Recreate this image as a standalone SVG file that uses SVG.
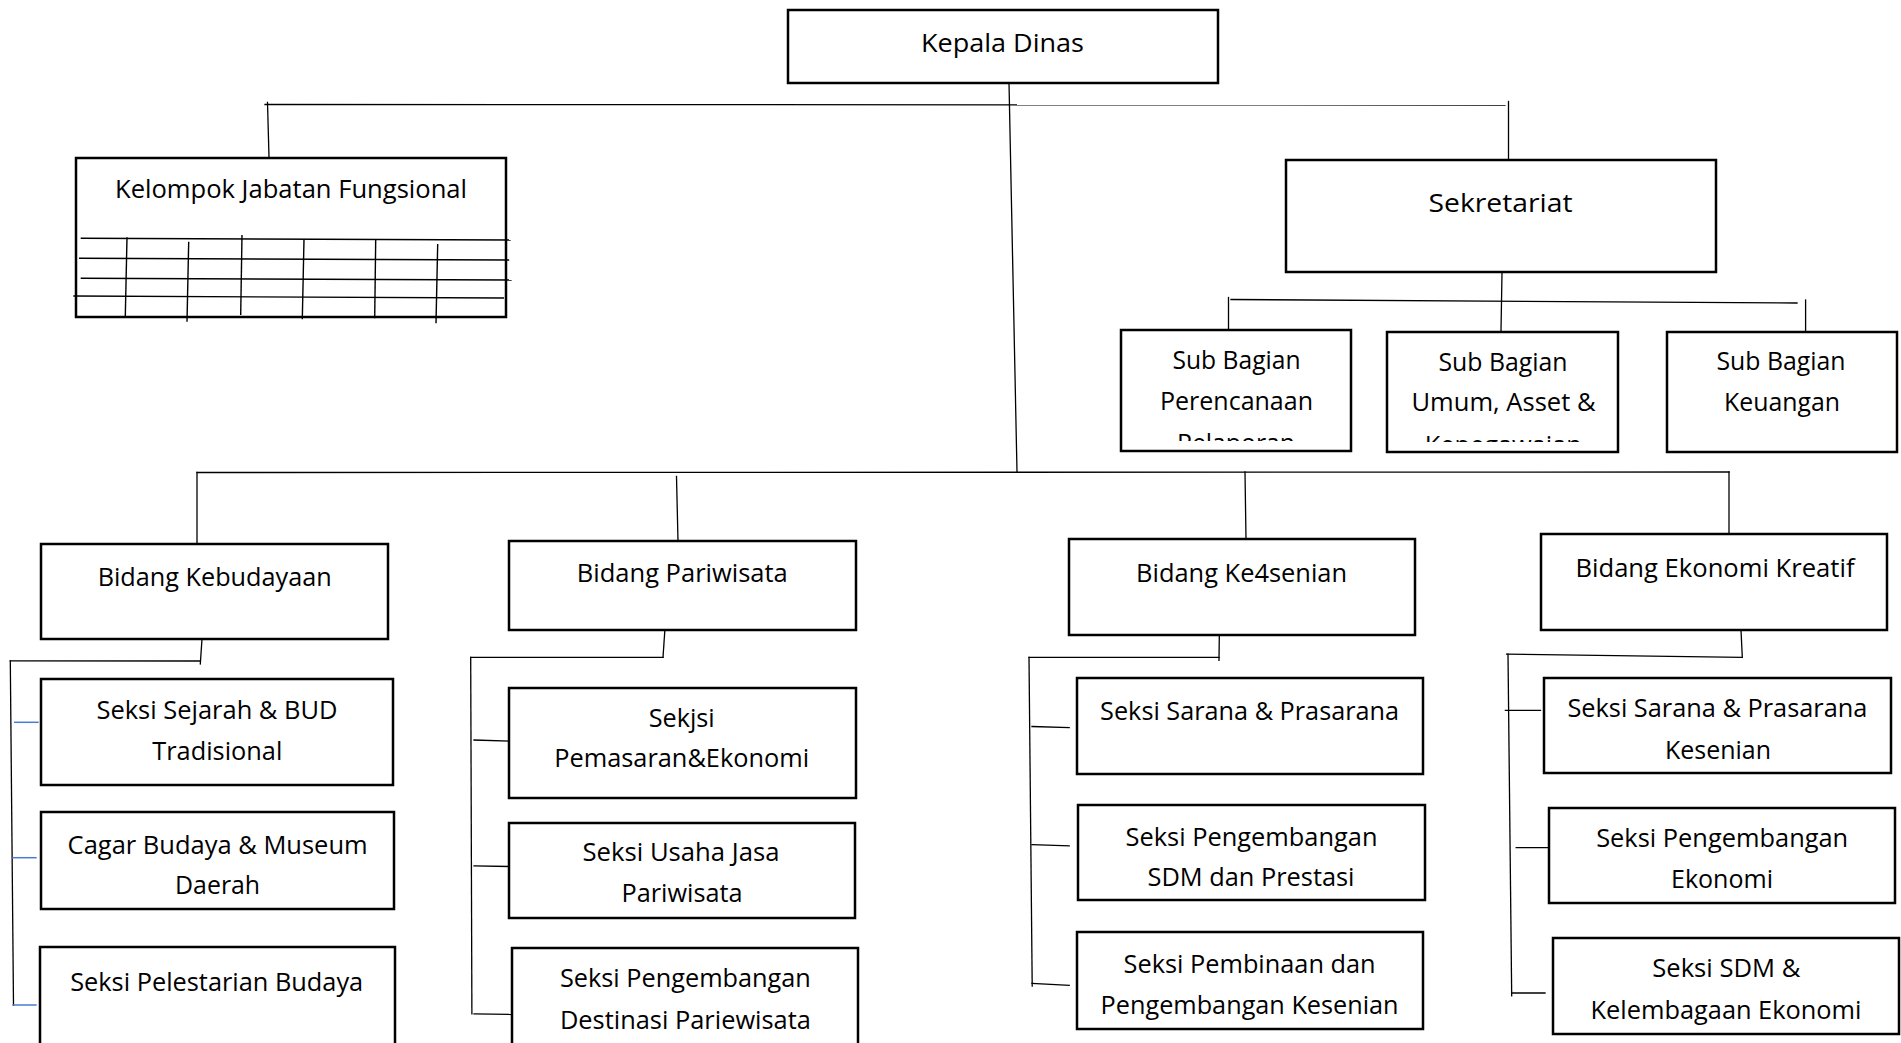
<svg xmlns="http://www.w3.org/2000/svg" width="1901" height="1043" viewBox="0 0 1901 1043">
  <style>
    .box { fill: #fff; stroke: #000; stroke-width: 2.5; }
    .t { font-family: "Open Sans", "Noto Sans", sans-serif; font-size: 26px; fill: #000; text-anchor: middle; }
    .c { stroke: #000; stroke-width: 1.3; fill: none; stroke-linecap: square; }
    .blue { stroke: #4a7bd0; stroke-width: 1.5; fill: none; }
    .grid { stroke: #000; stroke-width: 1.4; fill: none; }
  </style>
  <defs>
    <clipPath id="clip-sub1"><rect x="1122" y="331" width="228" height="110"/></clipPath>
    <clipPath id="clip-sub2"><rect x="1388" y="333" width="229" height="109"/></clipPath>
  </defs>

  <rect width="1901" height="1043" fill="#fff"/>

  <!-- connecting lines -->
  <g id="connectors">
    <!-- trunk from the head of office -->
    <line class="c" x1="1009" y1="83" x2="1017" y2="472"/>
    <line class="c" x1="265" y1="104.5" x2="1505" y2="105"/>
    <line class="c" x1="267.5" y1="102.5" x2="269" y2="157"/>
    <line class="c" x1="1508.5" y1="101.5" x2="1508.5" y2="160"/>
    <!-- secretariat to sub sections -->
    <line class="c" x1="1502" y1="273" x2="1501" y2="331"/>
    <line class="c" x1="1231" y1="299.5" x2="1797" y2="303"/>
    <line class="c" x1="1228.5" y1="297.5" x2="1228.5" y2="330"/>
    <line class="c" x1="1805.6" y1="300" x2="1805.6" y2="332"/>
    <!-- divisions bus -->
    <line class="c" x1="197" y1="472.5" x2="1729" y2="472"/>
    <line class="c" x1="197" y1="472.5" x2="197" y2="544"/>
    <line class="c" x1="676.5" y1="476.5" x2="678" y2="541"/>
    <line class="c" x1="1245" y1="472" x2="1246" y2="539"/>
    <line class="c" x1="1729" y1="472" x2="1729" y2="534"/>
    <!-- Kebudayaan sections -->
    <line class="c" x1="202" y1="639" x2="200.3" y2="664"/>
    <line class="c" x1="10.3" y1="660.8" x2="200.3" y2="661"/>
    <line class="c" x1="10.3" y1="661" x2="13.5" y2="1005"/>
    <line class="blue" x1="14" y1="722.3" x2="38.7" y2="722.3"/>
    <line class="blue" x1="12.3" y1="857.7" x2="36.7" y2="857.7"/>
    <line class="blue" x1="12.3" y1="1005" x2="36.7" y2="1005"/>
    <!-- Pariwisata sections -->
    <line class="c" x1="664.8" y1="631" x2="663" y2="657.3"/>
    <line class="c" x1="470.7" y1="657.3" x2="663" y2="657.3"/>
    <line class="c" x1="470.7" y1="657.3" x2="471.9" y2="1013.8"/>
    <line class="c" x1="474" y1="740" x2="512.6" y2="741.2"/>
    <line class="c" x1="474" y1="865.8" x2="508.6" y2="866.5"/>
    <line class="c" x1="474" y1="1013.8" x2="513.8" y2="1014.5"/>
    <!-- Ke4senian sections -->
    <line class="c" x1="1219.3" y1="636" x2="1219" y2="660.4"/>
    <line class="c" x1="1029" y1="657.3" x2="1219" y2="657.3"/>
    <line class="c" x1="1029" y1="657.3" x2="1032.2" y2="986.2"/>
    <line class="c" x1="1032" y1="726.5" x2="1069.2" y2="727.7"/>
    <line class="c" x1="1032" y1="844.6" x2="1069.2" y2="845.8"/>
    <line class="c" x1="1032" y1="983.5" x2="1069.2" y2="985.4"/>
    <!-- Ekonomi Kreatif sections -->
    <line class="c" x1="1741" y1="630" x2="1742.3" y2="657.3"/>
    <line class="c" x1="1506.6" y1="654.2" x2="1742" y2="657.3"/>
    <line class="c" x1="1508" y1="654.2" x2="1511.7" y2="995.8"/>
    <line class="c" x1="1505.4" y1="710.4" x2="1540.5" y2="710.4"/>
    <line class="c" x1="1516.2" y1="847.7" x2="1549.4" y2="847.7"/>
    <line class="c" x1="1511.7" y1="993" x2="1545" y2="993"/>
  </g>

  <g id="kepala-dinas">
    <rect class="box" x="788" y="10" width="430" height="73"/>
    <text class="t" x="1002.5" y="52" textLength="163" lengthAdjust="spacingAndGlyphs">Kepala Dinas</text>
  </g>

  <g id="kelompok-jabatan">
    <rect class="box" x="76" y="158" width="430" height="159"/>
    <text class="t" x="291" y="197.5" textLength="352" lengthAdjust="spacingAndGlyphs">Kelompok Jabatan Fungsional</text>
    <line class="grid" x1="80.7" y1="238.3" x2="510.7" y2="240"/>
    <line class="grid" x1="79" y1="258.3" x2="509.3" y2="260"/>
    <line class="grid" x1="80.7" y1="278.3" x2="511.7" y2="280"/>
    <line class="grid" x1="73.3" y1="296" x2="504" y2="298"/>
    <line class="grid" x1="127" y1="237.3" x2="125.3" y2="316"/>
    <line class="grid" x1="188.7" y1="241.7" x2="187" y2="321.7"/>
    <line class="grid" x1="242" y1="235" x2="240.7" y2="315"/>
    <line class="grid" x1="304" y1="239.3" x2="302.3" y2="319.3"/>
    <line class="grid" x1="375.7" y1="239.3" x2="374.7" y2="318.3"/>
    <line class="grid" x1="437.7" y1="244" x2="436" y2="323.3"/>
  </g>

  <g id="sekretariat">
    <rect class="box" x="1286" y="160" width="430" height="112"/>
    <text class="t" x="1500.5" y="211.5" textLength="144" lengthAdjust="spacingAndGlyphs">Sekretariat</text>
  </g>

  <g id="sub-perencanaan">
    <rect class="box" x="1121" y="330" width="230" height="121"/>
    <g clip-path="url(#clip-sub1)">
      <text class="t" x="1236.5" y="368.5" textLength="128" lengthAdjust="spacingAndGlyphs">Sub Bagian</text>
      <text class="t" x="1236.5" y="409.5" textLength="153" lengthAdjust="spacingAndGlyphs">Perencanaan</text>
      <text class="t" x="1236" y="451.5" textLength="118" lengthAdjust="spacingAndGlyphs">Pelaporan</text>
    </g>
  </g>

  <g id="sub-umum">
    <rect class="box" x="1387" y="332" width="231" height="120"/>
    <g clip-path="url(#clip-sub2)">
      <text class="t" x="1503" y="370.5" textLength="129" lengthAdjust="spacingAndGlyphs">Sub Bagian</text>
      <text class="t" x="1503.5" y="411" textLength="184" lengthAdjust="spacingAndGlyphs">Umum, Asset &amp;</text>
      <text class="t" x="1503.3" y="454" textLength="157" lengthAdjust="spacingAndGlyphs">Kepegawaian</text>
    </g>
  </g>

  <g id="sub-keuangan">
    <rect class="box" x="1667" y="332" width="230" height="120"/>
    <text class="t" x="1781" y="370" textLength="129" lengthAdjust="spacingAndGlyphs">Sub Bagian</text>
    <text class="t" x="1782" y="410.5" textLength="116" lengthAdjust="spacingAndGlyphs">Keuangan</text>
  </g>

  <g id="bidang-kebudayaan">
    <rect class="box" x="41" y="544" width="347" height="95"/>
    <text class="t" x="214.7" y="586" textLength="234" lengthAdjust="spacingAndGlyphs">Bidang Kebudayaan</text>
  </g>

  <g id="bidang-pariwisata">
    <rect class="box" x="509" y="541" width="347" height="89"/>
    <text class="t" x="682.3" y="582.3" textLength="211" lengthAdjust="spacingAndGlyphs">Bidang Pariwisata</text>
  </g>

  <g id="bidang-kesenian">
    <rect class="box" x="1069" y="539" width="346" height="96"/>
    <text class="t" x="1241.6" y="582.3" textLength="211" lengthAdjust="spacingAndGlyphs">Bidang Ke4senian</text>
  </g>

  <g id="bidang-ekonomi-kreatif">
    <rect class="box" x="1541" y="534" width="346" height="96"/>
    <text class="t" x="1715" y="576.5" textLength="279" lengthAdjust="spacingAndGlyphs">Bidang Ekonomi Kreatif</text>
  </g>

  <g id="seksi-sejarah">
    <rect class="box" x="41" y="679" width="352" height="106"/>
    <text class="t" x="217" y="719" textLength="241" lengthAdjust="spacingAndGlyphs">Seksi Sejarah &amp; BUD</text>
    <text class="t" x="217.3" y="760" textLength="130" lengthAdjust="spacingAndGlyphs">Tradisional</text>
  </g>

  <g id="cagar-budaya">
    <rect class="box" x="41" y="812" width="353" height="97"/>
    <text class="t" x="217.6" y="853.5" textLength="300" lengthAdjust="spacingAndGlyphs">Cagar Budaya &amp; Museum</text>
    <text class="t" x="217.6" y="894" textLength="85" lengthAdjust="spacingAndGlyphs">Daerah</text>
  </g>

  <g id="seksi-pelestarian">
    <rect class="box" x="40" y="947" width="355" height="120"/>
    <text class="t" x="216.7" y="991" textLength="293" lengthAdjust="spacingAndGlyphs">Seksi Pelestarian Budaya</text>
  </g>

  <g id="seksi-pemasaran">
    <rect class="box" x="509" y="688" width="347" height="110"/>
    <text class="t" x="681.7" y="726.5" textLength="66" lengthAdjust="spacingAndGlyphs">Sekjsi</text>
    <text class="t" x="681.7" y="767" textLength="255" lengthAdjust="spacingAndGlyphs">Pemasaran&amp;Ekonomi</text>
  </g>

  <g id="seksi-usaha-jasa">
    <rect class="box" x="509" y="823" width="346" height="95"/>
    <text class="t" x="681" y="861" textLength="197" lengthAdjust="spacingAndGlyphs">Seksi Usaha Jasa</text>
    <text class="t" x="682" y="901.5" textLength="121" lengthAdjust="spacingAndGlyphs">Pariwisata</text>
  </g>

  <g id="seksi-destinasi">
    <rect class="box" x="512" y="948" width="346" height="120"/>
    <text class="t" x="685.4" y="987.3" textLength="251" lengthAdjust="spacingAndGlyphs">Seksi Pengembangan</text>
    <text class="t" x="685.4" y="1028.5" textLength="251" lengthAdjust="spacingAndGlyphs">Destinasi Pariewisata</text>
  </g>

  <g id="seksi-sarana-prasarana">
    <rect class="box" x="1077" y="678" width="346" height="96"/>
    <text class="t" x="1249.6" y="720" textLength="299" lengthAdjust="spacingAndGlyphs">Seksi Sarana &amp; Prasarana</text>
  </g>

  <g id="seksi-sdm-prestasi">
    <rect class="box" x="1078" y="805" width="347" height="95"/>
    <text class="t" x="1251.5" y="845.8" textLength="252" lengthAdjust="spacingAndGlyphs">Seksi Pengembangan</text>
    <text class="t" x="1251" y="886.2" textLength="207" lengthAdjust="spacingAndGlyphs">SDM dan Prestasi</text>
  </g>

  <g id="seksi-pembinaan">
    <rect class="box" x="1077" y="932" width="346" height="97"/>
    <text class="t" x="1249.6" y="972.7" textLength="252" lengthAdjust="spacingAndGlyphs">Seksi Pembinaan dan</text>
    <text class="t" x="1249.6" y="1013.8" textLength="298" lengthAdjust="spacingAndGlyphs">Pengembangan Kesenian</text>
  </g>

  <g id="seksi-sarana-kesenian">
    <rect class="box" x="1544" y="678" width="347" height="95"/>
    <text class="t" x="1717.4" y="717" textLength="300" lengthAdjust="spacingAndGlyphs">Seksi Sarana &amp; Prasarana</text>
    <text class="t" x="1718" y="758.5" textLength="106" lengthAdjust="spacingAndGlyphs">Kesenian</text>
  </g>

  <g id="seksi-pengembangan-ekonomi">
    <rect class="box" x="1549" y="808" width="346" height="95"/>
    <text class="t" x="1722.2" y="847" textLength="252" lengthAdjust="spacingAndGlyphs">Seksi Pengembangan</text>
    <text class="t" x="1722" y="888" textLength="102" lengthAdjust="spacingAndGlyphs">Ekonomi</text>
  </g>

  <g id="seksi-kelembagaan">
    <rect class="box" x="1553" y="938" width="346" height="96"/>
    <text class="t" x="1726.3" y="977.3" textLength="148" lengthAdjust="spacingAndGlyphs">Seksi SDM &amp;</text>
    <text class="t" x="1726" y="1018.8" textLength="271" lengthAdjust="spacingAndGlyphs">Kelembagaan Ekonomi</text>
  </g>
</svg>
